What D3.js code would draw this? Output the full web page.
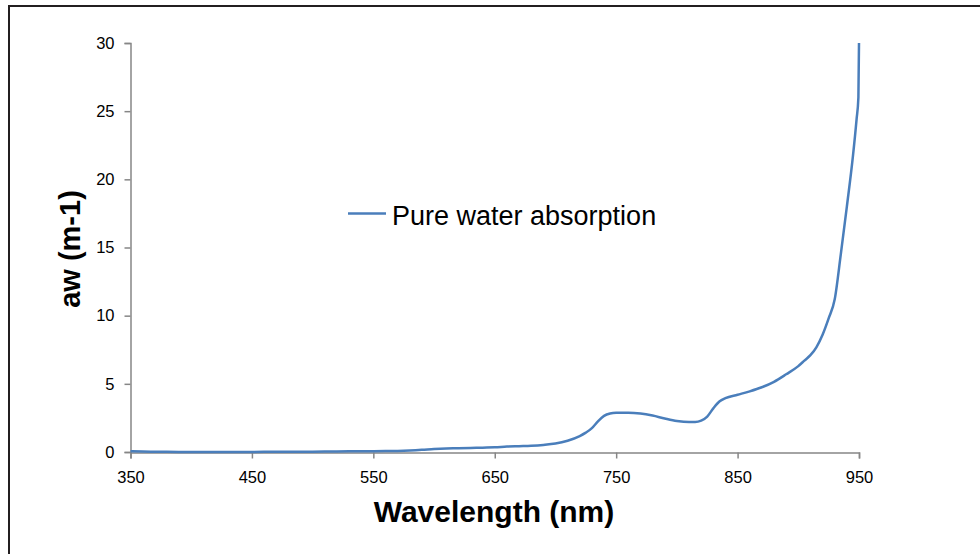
<!DOCTYPE html>
<html>
<head>
<meta charset="utf-8">
<script src="https://cdn.jsdelivr.net/npm/d3@7"></script>
<style>
    body { margin: 0; background: #fff; }
    svg { display: block; font-family: Arial, "Liberation Sans", sans-serif; }
</style>
</head>
<body>
<svg id="chart" width="980" height="554"></svg>
<script>
// Wavelength (nm) and pure water absorption aw (m-1)
var wavelength = [350, 360, 370, 380, 400, 420, 440, 460, 480, 500, 520, 540, 560, 570, 580, 590,
    600, 610, 620, 630, 640, 650, 660, 670, 680, 690, 700, 710, 720, 725, 730, 735, 740, 745,
    750, 760, 770, 780, 790, 800, 810, 815, 820, 825, 830, 835, 840, 850, 860, 870, 880, 890,
    900, 905, 910, 915, 920, 925, 930, 935, 940, 945, 948, 949.5, 950];
var absorption = [0.05, 0.03, 0.02, 0.011, 0.007, 0.005, 0.006, 0.01, 0.015, 0.026, 0.044, 0.052, 0.071, 0.08, 0.108, 0.157,
    0.224, 0.264, 0.276, 0.297, 0.319, 0.34, 0.40, 0.43, 0.46, 0.52, 0.62, 0.83, 1.17, 1.42, 1.75, 2.25, 2.65, 2.82,
    2.87, 2.88, 2.82, 2.67, 2.46, 2.28, 2.2, 2.2, 2.3, 2.6, 3.2, 3.7, 3.95, 4.2, 4.45, 4.75, 5.15, 5.7,
    6.3, 6.7, 7.1, 7.7, 8.6, 9.8, 11.2, 14.5, 18, 21.7, 24.4, 26, 30];

var xTicks = [350, 450, 550, 650, 750, 850, 950];
var yTicks = [0, 5, 10, 15, 20, 25, 30];
var seriesName = "Pure water absorption";

var svg = d3.select("#chart");
var axisColor = "#868686";
var lineColor = "#4a7ebb";

// frame round the chart
svg.append("rect")
    .attr("x", 9).attr("y", 6)
    .attr("width", 990).attr("height", 600)
    .attr("fill", "none")
    .attr("stroke", "#231f20")
    .attr("stroke-width", 2);

var x = d3.scaleLinear().domain([350, 950]).range([130.5, 859]);
var y = d3.scaleLinear().domain([0, 30]).range([452, 43]);

var data = wavelength.map(function(w, i) {
    return { w: w, a: absorption[i] };
});

// y axis
var yAxis = svg.append("g")
    .attr("transform", "translate(130.5,0)")
    .call(d3.axisLeft(y).tickValues(yTicks).tickSize(6).tickPadding(10));

// x axis
var xAxis = svg.append("g")
    .attr("transform", "translate(0,452.5)")
    .call(d3.axisBottom(x).tickValues(xTicks).tickSize(6).tickPadding(9));

[xAxis, yAxis].forEach(function(ax) {
    ax.select(".domain").attr("stroke", axisColor).attr("stroke-width", 1.5);
    ax.selectAll(".tick line").attr("stroke", axisColor).attr("stroke-width", 1.5);
    ax.selectAll(".tick text")
        .attr("fill", "#000")
        .style("font-size", "16.5px")
        .style("font-family", "Arial, 'Liberation Sans', sans-serif");
});
xAxis.selectAll(".tick text").attr("dy", "0.95em");

// the curve
var line = d3.line()
    .x(function(d) { return x(d.w); })
    .y(function(d) { return y(d.a); })
    .curve(d3.curveMonotoneX);

svg.append("path")
    .datum(data)
    .attr("d", line)
    .attr("fill", "none")
    .attr("stroke", lineColor)
    .attr("stroke-width", 2.5)
    .attr("stroke-linejoin", "round");

// legend
svg.append("line")
    .attr("x1", 348).attr("x2", 386)
    .attr("y1", 213.5).attr("y2", 213.5)
    .attr("stroke", lineColor)
    .attr("stroke-width", 2.5);

svg.append("text")
    .attr("x", 392).attr("y", 225)
    .style("font-size", "27px")
    .attr("fill", "#000")
    .text(seriesName);

// axis titles
svg.append("text")
    .attr("x", 494).attr("y", 522)
    .attr("text-anchor", "middle")
    .style("font-size", "30px")
    .style("font-weight", "bold")
    .text("Wavelength (nm)");

svg.append("text")
    .attr("transform", "translate(80,249) rotate(-90)")
    .attr("text-anchor", "middle")
    .style("font-size", "29px")
    .style("font-weight", "bold")
    .text("aw (m-1)");
</script>
</body>
</html>
